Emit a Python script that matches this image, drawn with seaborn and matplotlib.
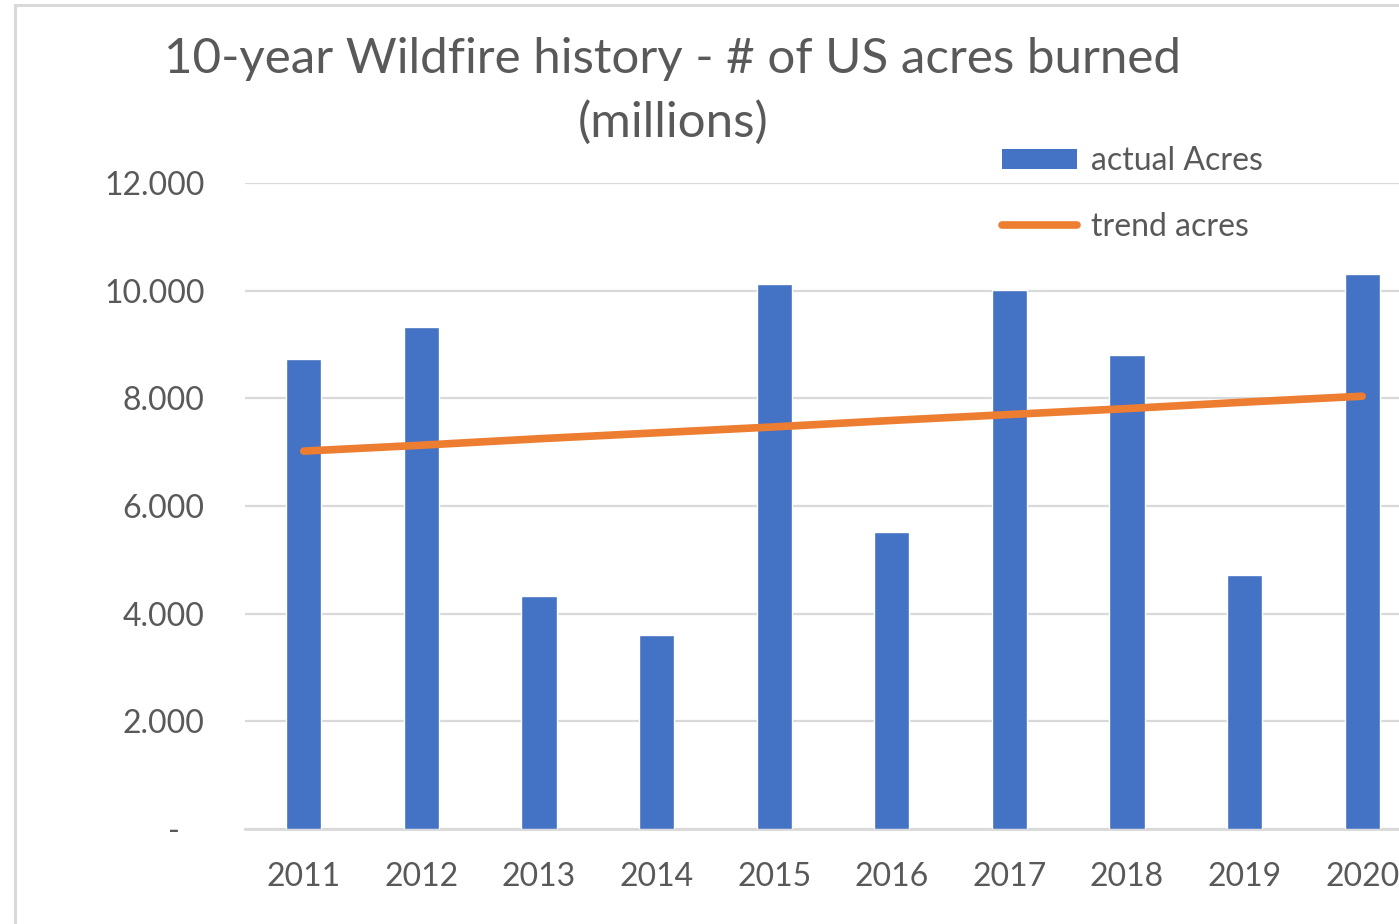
import matplotlib
matplotlib.use("Agg")
import matplotlib.pyplot as plt
import matplotlib.patches as mpatches
from matplotlib.lines import Line2D
from matplotlib.ticker import FuncFormatter
import numpy as np
import pandas as pd
import seaborn as sns

# --- data (millions of acres) ---
years = ["2011", "2012", "2013", "2014", "2015", "2016", "2017", "2018", "2019", "2020"]
actual_acres = [8.73, 9.33, 4.33, 3.60, 10.12, 5.52, 10.01, 8.81, 4.72, 10.31]
trend_acres = [7.02, 7.13, 7.25, 7.36, 7.47, 7.59, 7.70, 7.81, 7.93, 8.04]
y_ticks = [0, 2, 4, 6, 8, 10, 12]

df = pd.DataFrame({"year": years, "actual": actual_acres, "trend": trend_acres})

# --- style ---
sns.set_theme(style="white")
plt.rcParams["font.family"] = ["Lato", "DejaVu Sans"]
text_grey = "#595959"
grid_grey = "#D9D9D9"
bar_blue = "#4472C4"
trend_orange = "#ED7D31"

fig = plt.figure(figsize=(13.99, 9.24), dpi=100, facecolor="white")
# axis runs past the right edge, like the cropped excel screenshot
ax = fig.add_axes([0.1751, 0.1028, 0.8406, 0.6991])
ax.set_facecolor("white")

sns.barplot(data=df, x="year", y="actual", color=bar_blue, width=0.3,
            saturation=1, ax=ax, zorder=3)
sns.lineplot(x=np.arange(len(years)), y=df["trend"], color=trend_orange,
             linewidth=5.5, ax=ax, zorder=4, solid_capstyle="round")

ax.set_xlim(-0.5, 9.5)
ax.set_ylim(0, 12)
ax.set_yticks(y_ticks)
# excel accounting style: zero shows as a dash
ax.yaxis.set_major_formatter(FuncFormatter(lambda v, p: "-   " if v == 0 else f"{v:.3f}"))
ax.set_xlabel("")
ax.set_ylabel("")

ax.grid(axis="y", color=grid_grey, linewidth=1.6, zorder=0)
ax.set_axisbelow(True)
for side in ["top", "right", "left"]:
    ax.spines[side].set_visible(False)
ax.spines["bottom"].set_color(grid_grey)
ax.spines["bottom"].set_linewidth(2)
ax.tick_params(axis="y", length=0, pad=29, labelsize=23, labelcolor=text_grey)
ax.tick_params(axis="x", length=0, pad=24, labelsize=23, labelcolor=text_grey)

# title
fig.text(0.481, 0.96, "10-year Wildfire history - # of US acres burned\n(millions)",
         ha="center", va="top", fontsize=35.5, color=text_grey, linespacing=1.52)

# legend
handles = [
    mpatches.Patch(facecolor=bar_blue, edgecolor="none", label="actual Acres"),
    Line2D([0], [0], color=trend_orange, linewidth=5.5, solid_capstyle="round",
           label="trend acres"),
]
fig.legend(handles=handles, loc="upper left", bbox_to_anchor=(0.716, 0.842),
           frameon=False, fontsize=23, labelcolor=text_grey, handlelength=2.35,
           handleheight=0.6, handletextpad=0.45, labelspacing=1.12,
           borderpad=0, borderaxespad=0)

# light chart-area border
fig.patches.append(mpatches.Rectangle((15 / 1399, -0.1), 2, 1.1 - 5 / 924,
                                      transform=fig.transFigure, fill=False,
                                      edgecolor=grid_grey, linewidth=2.2))

fig.savefig("out.png", dpi=100, facecolor="white")
